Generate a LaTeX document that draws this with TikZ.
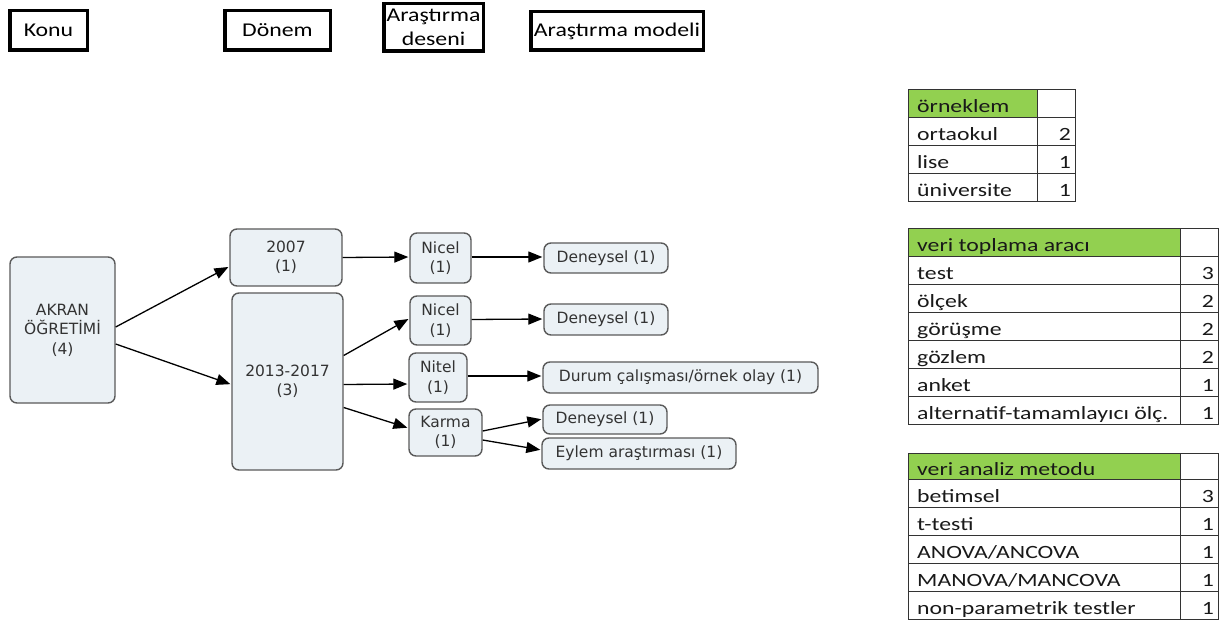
\documentclass[tikz,border=0pt]{standalone}
\usepackage{fontspec}
\usetikzlibrary{arrows.meta}
\newfontfamily\calib[FakeStretch=1.22]{Carlito}
\newfontfamily\calibt[FakeStretch=1.27]{Carlito}
\newfontfamily\verd{DejaVu Sans}
\definecolor{flowfill}{HTML}{EBF1F5}
\definecolor{flowline}{HTML}{5A5A5A}
\definecolor{xlgreen}{HTML}{92D050}
\tikzset{
  hbox/.style={draw=black, line width=3.5pt, fill=white, inner sep=0pt, align=center,
    font=\calib\fontsize{19.5}{24}\selectfont},
  flow/.style={draw=flowline, line width=1.4pt, fill=flowfill, rounded corners=7pt,
    inner sep=0pt, align=center, text=black!80, font=\verd\fontsize{15.5}{19.5}\selectfont},
  arr/.style={-{Triangle[length=14pt,width=11pt]}, line width=1.3pt, black, shorten >=1pt},
  cell/.style={draw=black!80, line width=1pt, inner sep=0pt, anchor=north west},
  ctext/.style={font=\calibt\fontsize{18.7}{20}\selectfont, inner sep=0pt, text=black!90}
}
\begin{document}
\begin{tikzpicture}[x=1pt,y=-1pt]
\path[fill=white,use as bounding box] (0,0) rectangle (1232,620);

% header boxes
\node[hbox, minimum width=77.5, minimum height=39.5] (konu) at (48.5,30.5) {Konu};
\node[hbox, minimum width=105.5, minimum height=39.5] (donem) at (277.5,30.5) {Dönem};
\node[hbox, minimum width=99.5, minimum height=47.5] (desen) at (433.5,27.5) {Araştırma\\deseni};
\node[hbox, minimum width=172.5, minimum height=38.5] (model) at (617,31) {Araştırma modeli};

% flow nodes
\node[flow, minimum width=105, minimum height=146] (akran) at (62.5,330) {AKRAN\\ÖĞRETİMİ\\(4)};
\node[flow, minimum width=112, minimum height=57] (y2007) at (286,257.5) {2007\\(1)};
\node[flow, minimum width=111, minimum height=177] (y2013) at (287.5,381.5) {2013-2017\\(3)};
\node[flow, minimum width=61, minimum height=50] (nicel1) at (440.5,258) {Nicel\\(1)};
\node[flow, minimum width=61, minimum height=49] (nicel2) at (440.5,320.5) {Nicel\\(1)};
\node[flow, minimum width=58, minimum height=49] (nitel) at (438,377.5) {Nitel\\(1)};
\node[flow, minimum width=73, minimum height=47] (karma) at (445.5,432.5) {Karma\\(1)};
\node[flow, minimum width=124, minimum height=30] (den1) at (606,258) {Deneysel (1)};
\node[flow, minimum width=124, minimum height=31] (den2) at (606,319.5) {Deneysel (1)};
\node[flow, minimum width=275, minimum height=31] (durum) at (680.5,377.5) {Durum çalışması/örnek olay (1)};
\node[flow, minimum width=124, minimum height=29] (den3) at (605,419.5) {Deneysel (1)};
\node[flow, minimum width=194, minimum height=31] (eylem) at (639,453.5) {Eylem araştırması (1)};

% connectors
\draw[arr] ([yshift=3pt]akran.east) -- ([yshift=-9pt]y2007.west);
\draw[arr] ([yshift=-14pt]akran.east) -- ([yshift=-3pt]y2013.west);
\draw[arr] (y2007.east) -- ([yshift=1pt]nicel1.west);
\draw[arr] ([yshift=26pt]y2013.east) -- ([yshift=2pt]nicel2.west);
\draw[arr] ([yshift=-3pt]y2013.east) -- ([yshift=-6.5pt]nitel.west);
\draw[arr] ([yshift=-26pt]y2013.east) -- ([yshift=4.5pt]karma.west);
\draw[arr] ([yshift=1pt]nicel1.east) -- ([yshift=1pt]den1.west);
\draw[arr] ([yshift=1pt]nicel2.east) -- ([yshift=0.5pt]den2.west);
\draw[arr] ([yshift=1.5pt]nitel.east) -- ([yshift=1.5pt]durum.west);
\draw[arr] ([yshift=1.5pt]karma.east) -- ([yshift=0.5pt]den3.west);
\draw[arr] ([yshift=-7.5pt]karma.east) -- ([yshift=3.5pt]eylem.west);

% table 1: örneklem
\node[cell, fill=xlgreen, minimum width=129, minimum height=28] (t1h) at (908,89) {};
\node[cell, minimum width=38, minimum height=28] (t1hv) at (1037,89) {};
\node[ctext, anchor=base west] (t1ht) at ([xshift=9pt,yshift=5pt]t1h.south west) {örneklem};
\foreach [count=\i] \lab/\val in {ortaokul/2, lise/1, üniversite/1} {
  \node[cell, minimum width=129, minimum height=28] (t1l\i) at (908,{117+28*(\i-1)}) {};
  \node[cell, minimum width=38, minimum height=28] (t1v\i) at (1037,{117+28*(\i-1)}) {};
  \node[ctext, anchor=base west] (t1lt\i) at ([xshift=9pt,yshift=5.5pt]t1l\i.south west) {\lab};
  \node[ctext, anchor=base east] (t1vt\i) at ([xshift=-5pt,yshift=5.5pt]t1v\i.south east) {\val};
}

% table 2: veri toplama aracı
\node[cell, fill=xlgreen, minimum width=272, minimum height=28] (t2h) at (908,228) {};
\node[cell, minimum width=38, minimum height=28] (t2hv) at (1180,228) {};
\node[ctext, anchor=base west] (t2ht) at ([xshift=9pt,yshift=5pt]t2h.south west) {veri toplama aracı};
\foreach [count=\i] \lab/\val in {test/3, ölçek/2, görüşme/2, gözlem/2, anket/1, alternatif-tamamlayıcı ölç./1} {
  \node[cell, minimum width=272, minimum height=28] (t2l\i) at (908,{256+28*(\i-1)}) {};
  \node[cell, minimum width=38, minimum height=28] (t2v\i) at (1180,{256+28*(\i-1)}) {};
  \node[ctext, anchor=base west] (t2lt\i) at ([xshift=9pt,yshift=5.5pt]t2l\i.south west) {\lab};
  \node[ctext, anchor=base east] (t2vt\i) at ([xshift=-5pt,yshift=5.5pt]t2v\i.south east) {\val};
}

% table 3: veri analiz metodu
\node[cell, fill=xlgreen, minimum width=272, minimum height=26] (t3h) at (908,453) {};
\node[cell, minimum width=38, minimum height=26] (t3hv) at (1180,453) {};
\node[ctext, anchor=base west] (t3ht) at ([xshift=9pt,yshift=4.5pt]t3h.south west) {veri analiz metodu};
\foreach [count=\i] \lab/\val in {betimsel/3, t-testi/1, {ANOVA/ANCOVA}/1, {MANOVA/MANCOVA}/1, non-parametrik testler/1} {
  \node[cell, minimum width=272, minimum height=28] (t3l\i) at (908,{479+28*(\i-1)}) {};
  \node[cell, minimum width=38, minimum height=28] (t3v\i) at (1180,{479+28*(\i-1)}) {};
  \node[ctext, anchor=base west] (t3lt\i) at ([xshift=9pt,yshift=5.5pt]t3l\i.south west) {\lab};
  \node[ctext, anchor=base east] (t3vt\i) at ([xshift=-5pt,yshift=5.5pt]t3v\i.south east) {\val};
}
\end{tikzpicture}
\end{document}
